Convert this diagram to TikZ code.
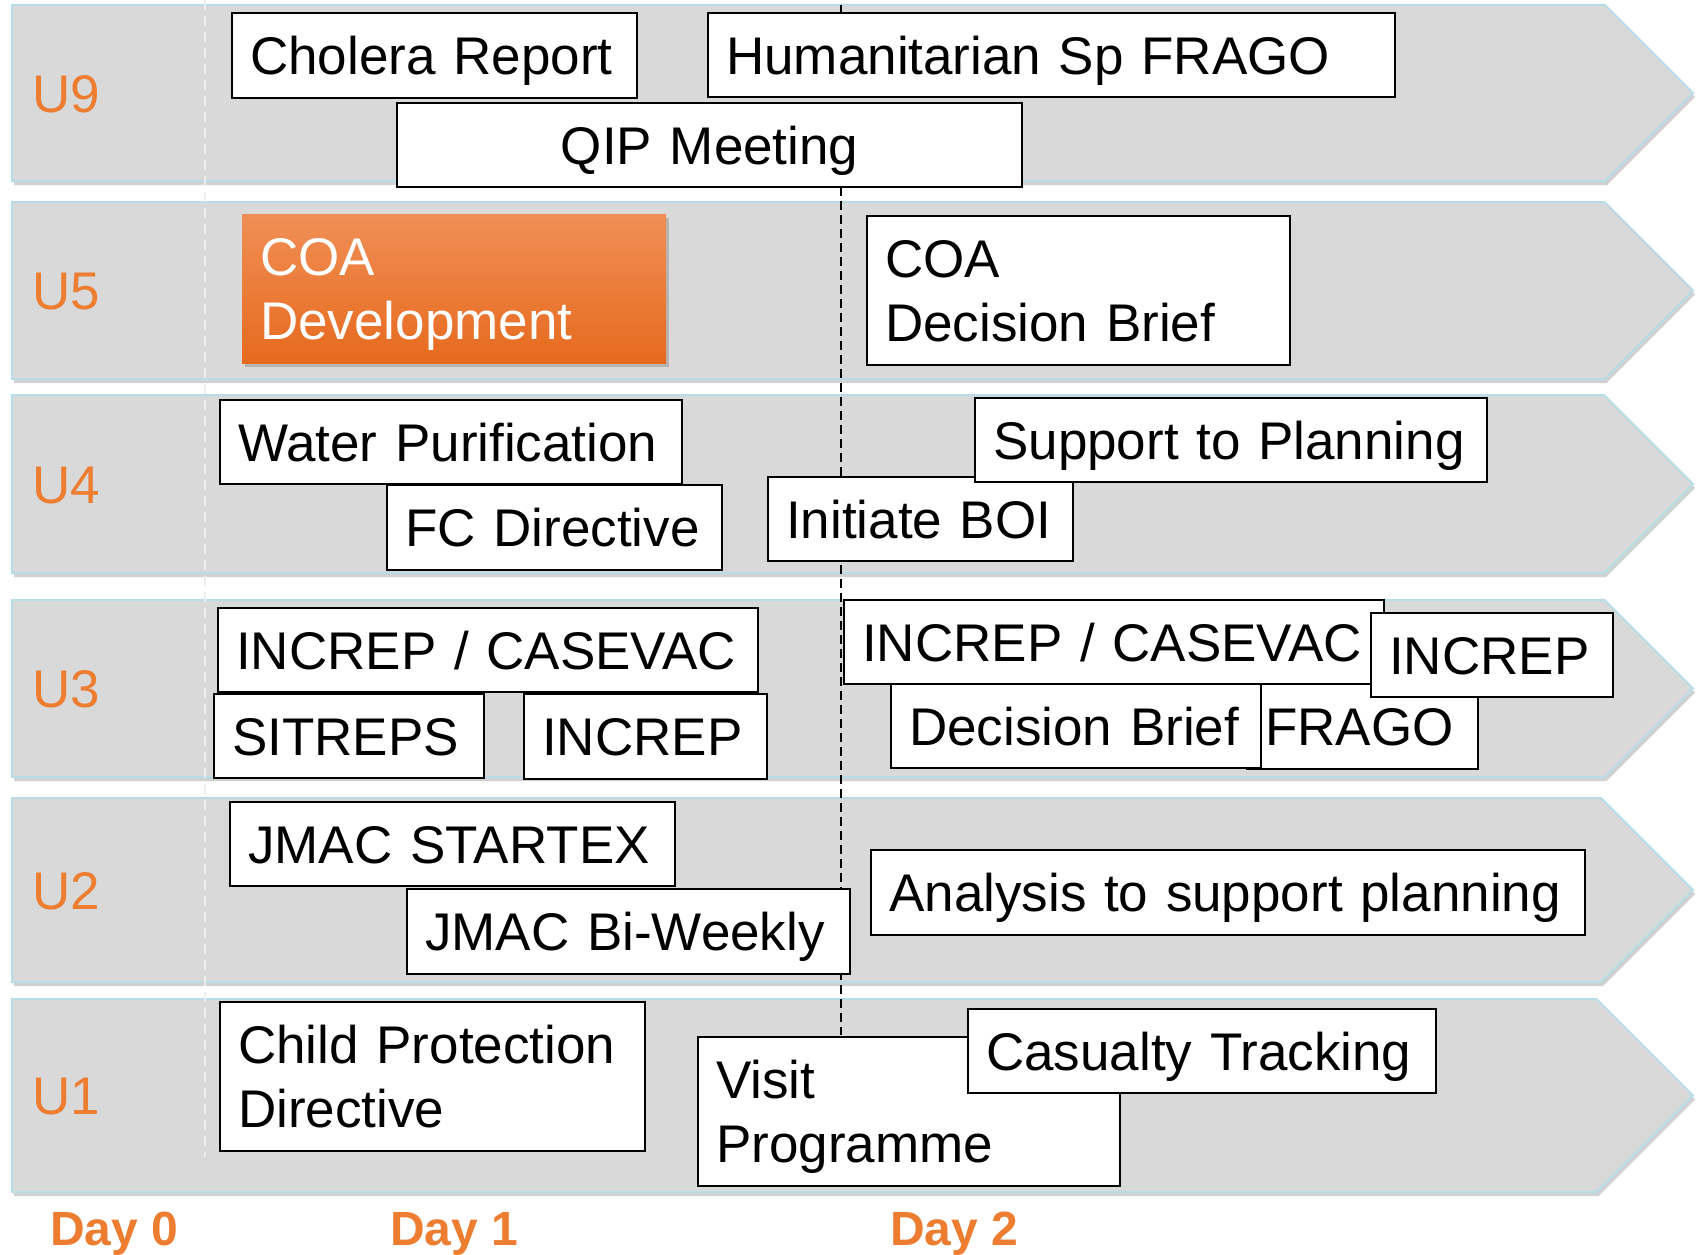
\documentclass[tikz,border=0pt]{standalone}
\usepackage{fontspec}
\setmainfont{Liberation Sans}
\usetikzlibrary{shadows}
\definecolor{lab}{RGB}{237,125,49}
\definecolor{bandfill}{RGB}{217,217,217}
\definecolor{bandedge}{RGB}{183,221,232}
\definecolor{orT}{RGB}{241,143,86}
\definecolor{orB}{RGB}{230,106,30}
\newcommand\taskfont{\fontsize{53}{64}\selectfont}
\newcommand\labfont{\fontsize{53}{64}\selectfont}
\newcommand\dayfont{\fontsize{48}{57}\selectfont\bfseries}
\tikzset{
  task/.style={draw=black, line width=2.4pt, fill=white, inner xsep=18pt, inner ysep=0pt,
    anchor=north west, align=left, font=\taskfont, text height=38pt, text depth=0pt},
  twoline/.style={text depth=64pt},
  orangebox/.style={draw=none, top color=orT, bottom color=orB, text=white,
    drop shadow={shadow xshift=3pt, shadow yshift=-4pt, opacity=0.4}},
  bandstyle/.style={fill=bandfill, draw=bandedge, line width=2pt, line join=miter},
  bandshadow/.style={fill=black, opacity=0.18},
  ulab/.style={anchor=base west, inner sep=0pt, text=lab, font=\labfont},
  daylab/.style={anchor=base west, inner sep=0pt, text=lab, font=\dayfont},
}
\newcommand\tbox[7][]{%
  \pgfmathsetmacro\tbw{#5-#3-36}%
  \pgfmathsetmacro\tbh{#6-#4}%
  \node[task, text width=\tbw pt, minimum height=\tbh pt, #1] (#2) at (#3,#4) {#7};}
\newcommand\band[4]{% name, top, bottom, label
  \pgfmathsetmacro\bmid{(#2+#3)/2}%
  \pgfmathsetmacro\bhalf{(#3-#2)/2}%
  \pgfmathsetmacro\bend{1693-\bhalf}%
  \path[bandshadow] (14,#2+4) -- (\bend+2,#2+4) -- (1695,\bmid+4) -- (\bend+2,#3+4) -- (14,#3+4) -- cycle;
  \path[bandstyle] (12,#2) -- (\bend,#2) -- (1693,\bmid) -- (\bend,#3) -- (12,#3) -- cycle;
  \node[ulab] (#1) at (32,\bmid+19) {#4};}
\begin{document}
\begin{tikzpicture}[x=1pt, y=-1pt]
\useasboundingbox (0,0) rectangle (1697,1255);
% bands
\band{u9}{5}{181}{U9}
\band{u5}{202}{379}{U5}
\band{u4}{395}{573}{U4}
\band{u3}{600}{777}{U3}
\band{u2}{798}{982}{U2}
\band{u1}{999}{1192}{U1}
% day-zero guide
\coordinate (ltop) at (205,0);
\coordinate (lbot) at (205,1157);
\draw[white!93!black, line width=2pt, dash pattern=on 10pt off 6pt] (ltop) -- (lbot);
% day-two guide
\coordinate (dtop) at (841,5);
\coordinate (dbot) at (841,1035);
\draw[black, line width=2pt, dash pattern=on 9pt off 5pt] (dtop) -- (dbot);
% U9
\tbox{cholera}{231}{12}{636}{97}{Cholera Report}
\tbox{human}{707}{12}{1394}{96}{Humanitarian Sp FRAGO}
\tbox[align=center]{qip}{396}{102}{1021}{186}{QIP Meeting}
% U5
\tbox[twoline, orangebox]{coadev}{241}{213}{665}{362}{COA\\Development}
\tbox[twoline]{coadb}{866}{215}{1289}{364}{COA\\Decision Brief}
% U4
\tbox{water}{219}{399}{681}{483}{Water Purification}
\tbox{fc}{386}{484}{721}{569}{FC Directive}
\tbox{boi}{767}{476}{1072}{560}{Initiate BOI}
\tbox{support}{974}{397}{1486}{481}{Support to Planning}
% U3
\tbox{incL}{217}{607}{757}{691}{INCREP / CASEVAC}
\tbox{sitreps}{213}{693}{483}{777}{SITREPS}
\tbox{increpL}{523}{693}{766}{778}{INCREP}
\tbox{frago}{1246}{682}{1477}{768}{FRAGO}
\tbox{decision}{890}{683}{1260}{767}{Decision Brief}
\tbox{incR}{843}{599}{1383}{683}{INCREP / CASEVAC}
\tbox{increpR}{1370}{612}{1612}{696}{INCREP}
% U2
\tbox{startex}{229}{801}{674}{885}{JMAC STARTEX}
\tbox{biweekly}{406}{888}{849}{973}{JMAC Bi-Weekly}
\tbox{analysis}{870}{849}{1584}{934}{Analysis to support planning}
% U1
\tbox[twoline]{child}{219}{1001}{644}{1150}{Child Protection\\Directive}
\tbox[twoline]{visit}{697}{1036}{1119}{1185}{Visit\\Programme}
\tbox{casualty}{967}{1008}{1435}{1092}{Casualty Tracking}
% days
\node[daylab] (d0) at (50,1245) {Day 0};
\node[daylab] (d1) at (390,1245) {Day 1};
\node[daylab] (d2) at (890,1245) {Day 2};
\end{tikzpicture}
\end{document}
